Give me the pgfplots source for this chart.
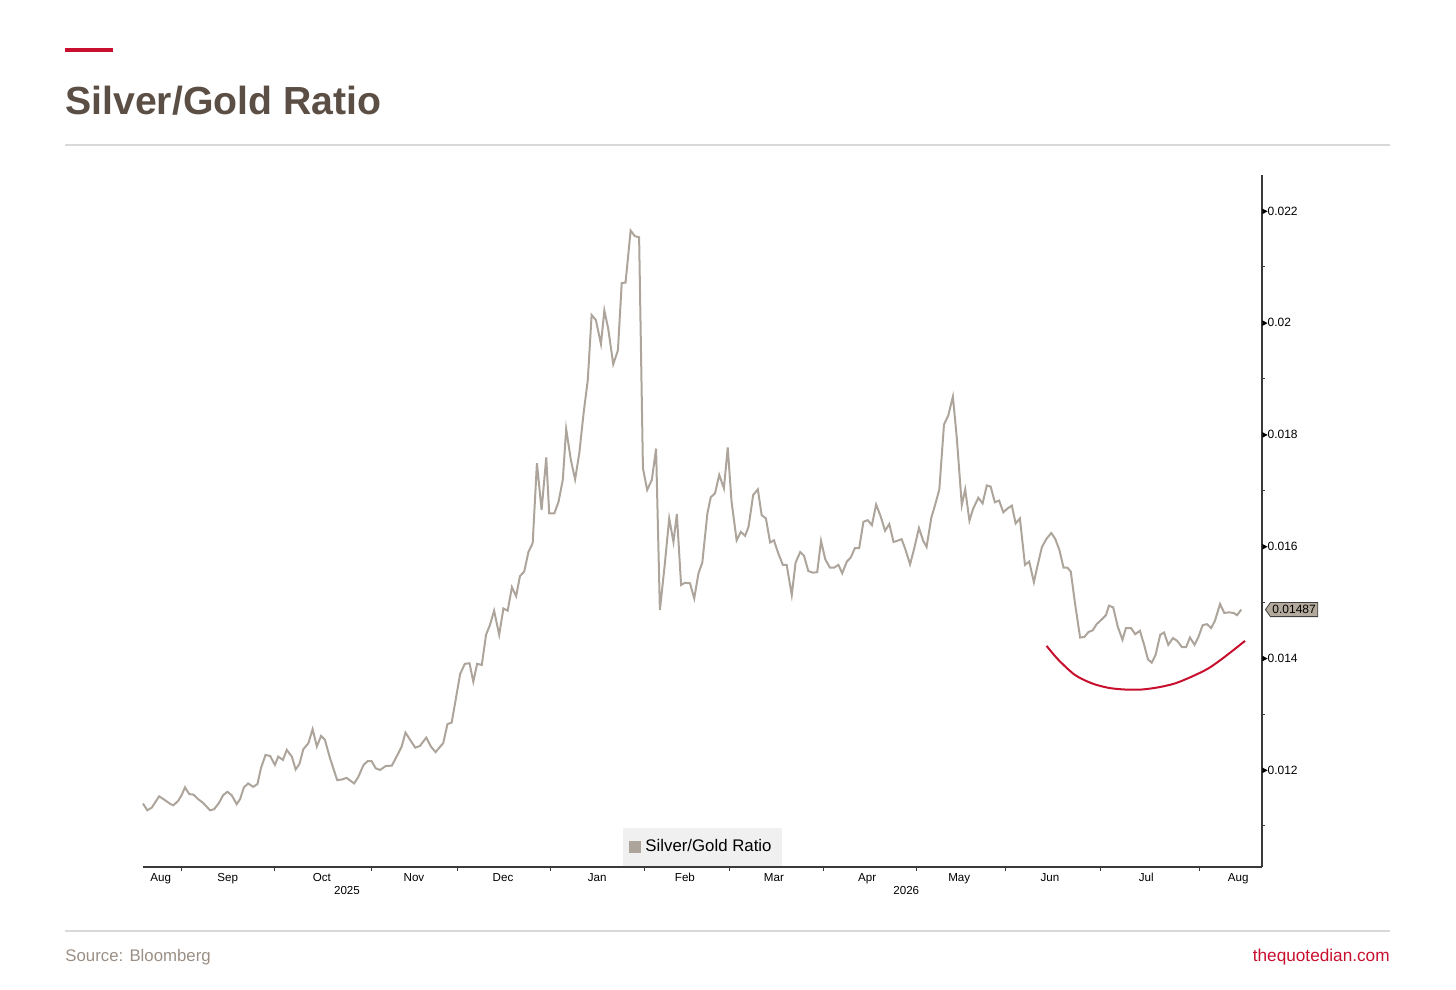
\documentclass[border=0pt]{standalone}
\usepackage{fontspec}
\setmainfont{Liberation Sans}
\usepackage{pgfplots}
\pgfplotsset{compat=1.18}
\usepackage{pgfplotstable}
\usetikzlibrary{shapes.symbols}
\definecolor{linegray}{HTML}{ADA59B}
\definecolor{qred}{HTML}{C8102E}
\definecolor{titlebrown}{HTML}{5B4E44}
\definecolor{rulegray}{HTML}{D9D9D9}
\definecolor{srcgray}{HTML}{9B8F85}
\definecolor{axisgray}{HTML}{3A3A3A}
\definecolor{legbg}{HTML}{F0F0F0}
\definecolor{taggray}{HTML}{B3AA9D}

\pgfplotstableread{
d v
0.0 0.01140
1.0 0.01128
2.1 0.01133
3.8 0.01153
5.2 0.01146
6.5 0.01139
7.2 0.01137
8.3 0.01145
9.1 0.01155
9.9 0.01169
10.9 0.01157
11.9 0.01156
13.0 0.01148
14.2 0.01141
15.8 0.01128
16.8 0.01130
17.9 0.01141
18.9 0.01155
19.9 0.01161
20.9 0.01155
22.1 0.01139
22.9 0.01148
23.8 0.01169
24.8 0.01176
26.0 0.01170
27.0 0.01175
27.8 0.01203
28.9 0.01227
30.0 0.01225
31.1 0.01209
31.9 0.01224
33.0 0.01218
33.9 0.01236
35.1 0.01224
36.0 0.01201
36.9 0.01211
37.8 0.01237
39.0 0.01248
40.0 0.01273
41.0 0.01242
42.0 0.01261
42.9 0.01254
44.1 0.01221
45.8 0.01182
46.9 0.01183
48.0 0.01186
49.8 0.01176
50.8 0.01188
52.0 0.01209
53.0 0.01216
53.9 0.01216
54.9 0.01203
55.9 0.01200
57.2 0.01207
58.7 0.01208
59.8 0.01224
61.0 0.01242
61.9 0.01267
63.0 0.01254
64.2 0.01240
65.3 0.01243
66.8 0.01258
67.9 0.01242
69.0 0.01232
70.1 0.01242
70.8 0.01248
71.8 0.01282
72.8 0.01285
74.8 0.01372
75.9 0.01390
77.0 0.01391
77.9 0.01358
78.8 0.01390
79.9 0.01388
80.9 0.01442
81.8 0.01459
82.8 0.01485
84.0 0.01442
85.0 0.01489
86.0 0.01485
87.0 0.01527
88.0 0.01511
88.9 0.01547
89.9 0.01555
90.9 0.01590
91.9 0.01606
92.9 0.01749
94.0 0.01665
95.1 0.01759
95.8 0.01659
97.0 0.01659
98.0 0.01680
99.0 0.01719
99.8 0.01810
100.9 0.01755
101.9 0.01720
102.9 0.01767
103.9 0.01838
104.9 0.01898
105.8 0.02014
106.8 0.02005
108.0 0.01962
108.8 0.02022
109.7 0.01990
110.9 0.01926
112.0 0.01951
112.9 0.02071
113.8 0.02072
115.0 0.02165
116.0 0.02155
117.0 0.02153
117.9 0.01740
118.9 0.01701
120.0 0.01719
121.0 0.01775
121.9 0.01486
123.0 0.01564
124.1 0.01650
125.1 0.01608
125.9 0.01658
126.9 0.01531
127.8 0.01535
129.0 0.01534
130.0 0.01507
131.0 0.01552
131.9 0.01571
133.1 0.01659
133.9 0.01688
134.9 0.01695
135.9 0.01728
137.0 0.01704
137.9 0.01777
138.8 0.01680
140.0 0.01611
141.0 0.01626
142.0 0.01619
142.8 0.01635
143.9 0.01692
145.0 0.01702
145.9 0.01656
146.9 0.01650
147.9 0.01607
148.8 0.01611
149.8 0.01588
150.9 0.01567
151.8 0.01567
153.0 0.01513
153.9 0.01571
155.0 0.01590
155.9 0.01583
156.9 0.01556
158.0 0.01553
159.0 0.01554
159.9 0.01610
160.9 0.01577
162.0 0.01562
163.0 0.01562
164.0 0.01567
164.9 0.01552
166.0 0.01573
166.9 0.01580
167.9 0.01597
168.9 0.01597
169.9 0.01644
170.9 0.01647
171.9 0.01638
172.9 0.01675
174.0 0.01653
175.0 0.01628
176.0 0.01640
177.0 0.01608
177.9 0.01610
178.9 0.01613
179.7 0.01597
180.9 0.01568
181.8 0.01594
183.0 0.01633
184.0 0.01610
184.8 0.01599
185.9 0.01651
186.8 0.01674
187.8 0.01702
188.9 0.01818
189.9 0.01834
191.0 0.01868
191.9 0.01796
193.1 0.01674
193.9 0.01702
194.9 0.01646
195.8 0.01668
197.0 0.01687
198.0 0.01677
199.0 0.01709
199.9 0.01707
200.9 0.01679
201.9 0.01682
202.9 0.01661
203.9 0.01668
204.9 0.01673
205.8 0.01641
206.8 0.01650
208.0 0.01567
209.0 0.01573
210.1 0.01536
211.0 0.01567
212.0 0.01599
213.1 0.01614
214.2 0.01624
215.1 0.01614
216.1 0.01594
217.1 0.01562
218.0 0.01562
218.8 0.01555
219.8 0.01498
221.0 0.01437
222.0 0.01438
223.0 0.01447
224.0 0.01450
224.9 0.01461
225.9 0.01468
227.1 0.01477
227.8 0.01494
228.8 0.01491
229.9 0.01456
231.0 0.01433
231.8 0.01454
233.0 0.01454
234.0 0.01443
235.1 0.01449
236.1 0.01424
237.0 0.01398
237.9 0.01392
238.8 0.01406
239.9 0.01442
240.8 0.01446
241.8 0.01424
242.9 0.01436
243.9 0.01431
245.0 0.01420
246.0 0.01420
246.9 0.01437
248.0 0.01424
248.9 0.01438
249.9 0.01459
250.9 0.01461
251.9 0.01454
252.8 0.01467
254.0 0.01497
255.0 0.01481
256.1 0.01482
257.2 0.01481
258.0 0.01477
259.0 0.01487
}\silvergold

\pgfplotstableread{
d v
213.1 0.01422
215.9 0.01397
219.8 0.01370
223.8 0.01355
227.7 0.01347
231.6 0.01344
235.5 0.01344
239.5 0.01348
243.4 0.01355
247.3 0.01367
251.3 0.01382
255.2 0.01403
259.9 0.01431
}\arc

\begin{document}
\begin{tikzpicture}[x=0.5pt,y=0.5pt]
\path[use as bounding box] (0,0) rectangle (1456,990);
% header
\fill[qred] (65,938) rectangle (113,942);
\node[anchor=base west, inner sep=0pt, text=titlebrown,
      font=\fontsize{19.6}{22}\selectfont\bfseries] at (65,875) {Silver/Gold Ratio};
\draw[rulegray, line width=0.6pt] (65,845) -- (1390,845);
% footer
\draw[rulegray, line width=0.6pt] (65,59) -- (1390,59);
\node[anchor=base west, inner sep=0pt, text=srcgray,
      font=\fontsize{8.4}{10}\selectfont] at (65,28) {Source: Bloomberg};
\node[anchor=base east, inner sep=0pt, text=qred,
      font=\fontsize{8.6}{10}\selectfont] at (1390,28) {thequotedian.com};

\begin{axis}[
  at={(71.5pt,61.5pt)}, anchor=south west,
  scale only axis, width=559.5pt, height=346pt,
  xmin=0, xmax=263.9, ymin=0.010265, ymax=0.022644,
  clip=false,
  axis x line*=bottom, axis y line*=right,
  axis line style={axisgray, line width=0.6pt},
  tick style={axisgray, line width=0.5pt},
  tick align=outside,
  major tick length=2pt, minor tick length=1.6pt,
  xtick={9.1,31.1,54.0,74.2,96.0,118.2,138.2,160.4,182.5,203.5,225.9,249.1},
  xticklabels={},
  extra x ticks={4.2,20.0,42.2,63.9,84.9,107.1,127.8,148.8,170.8,192.5,213.9,236.6,258.3},
  extra x tick labels={Aug,Sep,Oct,Nov,Dec,Jan,Feb,Mar,Apr,May,Jun,Jul,Aug},
  extra x tick style={major tick length=0pt,
     xticklabel style={font=\fontsize{5.8}{6}\selectfont, text height=1.5ex, text depth=0.4ex, yshift=4pt}},
  ytick={0.012,0.014,0.016,0.018,0.020,0.022},
  minor ytick={0.011,0.013,0.015,0.017,0.019,0.021},
  scaled y ticks=false,
  yticklabel={\tikz[baseline=-0.6ex]\fill[black] (0,-1.4pt)--(2.6pt,0)--(0,1.4pt)--cycle;\pgfmathprintnumber[fixed,precision=3]{\tick}},
  yticklabel style={font=\fontsize{6}{6}\selectfont, anchor=west, inner sep=0pt, xshift=-2pt},
  /pgf/number format/assume math mode=true,
  legend style={at={(0.5,0)}, anchor=south, yshift=0.5pt, fill=legbg, draw=none,
     font=\fontsize{8.4}{10}\selectfont, inner xsep=3pt, inner ysep=3.5pt,
     legend cell align=left},
  legend image code/.code={\fill[linegray] (0pt,-2.6pt) rectangle (5pt,2.4pt);},
]
\addplot[linegray, line width=1pt] table[x=d, y=v] {\silvergold};
\addlegendentry{Silver/Gold Ratio}
\addplot[qred, line width=1pt, smooth, forget plot] table[x=d, y=v] {\arc};
\node[signal, signal to=west, signal pointer angle=110, fill=taggray, draw=black!75,
      line width=0.4pt, inner xsep=1pt, inner ysep=1.4pt, anchor=west,
      font=\fontsize{6}{6}\selectfont] at (axis cs:264.6,0.01487) {0.01487};
\node[font=\fontsize{5.8}{6}\selectfont] at (axis cs:48.1,0.010265) [yshift=-11.5pt] {2025};
\node[font=\fontsize{5.8}{6}\selectfont] at (axis cs:180.0,0.010265) [yshift=-11.5pt] {2026};
\draw[black!45, line width=0.5pt] (axis cs:96,0.010265) ++(0,-8.5pt) -- ++(0,-6.5pt);
\end{axis}
\end{tikzpicture}
\end{document}
